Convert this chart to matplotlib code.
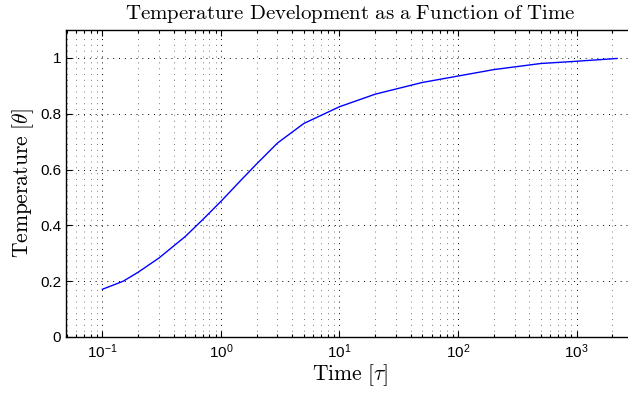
import numpy as np
import matplotlib
matplotlib.use('Agg')
import matplotlib.pyplot as plt
from matplotlib.ticker import LogLocator

plt.rcParams['mathtext.fontset'] = 'custom'
plt.rcParams['mathtext.rm'] = 'Liberation Sans'
plt.rcParams['mathtext.it'] = 'Liberation Sans:italic'
plt.rcParams['font.family'] = 'Liberation Sans'

# curve
tiempo = [0.1, 0.15, 0.2, 0.3, 0.5, 0.7, 1.0, 1.5, 2.0, 3.0, 5.0, 10.0, 20.0, 50.0,
          100.0, 200.0, 500.0, 1000.0, 2200.0]
temperatura = [0.171, 0.2, 0.232, 0.283, 0.36, 0.42, 0.486, 0.565, 0.62, 0.695, 0.765,
               0.825, 0.87, 0.912, 0.935, 0.958, 0.98, 0.988, 0.998]

xticks = [0.1, 1, 10, 100, 1000]
xlabels = [r'$10^{-1}$', r'$10^{0}$', r'$10^{1}$', r'$10^{2}$', r'$10^{3}$']
yticks = [0, 0.2, 0.4, 0.6, 0.8, 1]
ylabels = ['0', '0.2', '0.4', '0.6', '0.8', '1']

fig = plt.figure(figsize=(6.28, 3.95), dpi=100)
ax = fig.add_axes([66/628, 58/395, 1.01 - 66/628, (337-30)/395])

ax.plot(tiempo, temperatura, color='#0000ff', lw=1.0, zorder=3)
ax.set_xscale('log')
ax.set_xlim(0.0493, 10 ** (3 + (634 - 576.3) / 118.4))
ax.set_ylim(0, 1.1)

ax.set_xticks(xticks)
ax.set_xticklabels(xlabels)
ax.xaxis.set_minor_locator(LogLocator(base=10, subs=np.arange(2, 10), numticks=20))
ax.xaxis.set_minor_formatter(plt.NullFormatter())
ax.set_yticks(yticks)
ax.set_yticklabels(ylabels)

ax.tick_params(which='both', direction='in', top=True, right=True, labelsize=11, width=0.8)
ax.tick_params(which='major', length=4)
ax.tick_params(which='minor', length=2)
ax.tick_params(axis='x', pad=4)

ax.grid(True, which='major', color='black', linestyle=(0, (1, 5)), lw=0.7)
ax.grid(True, which='minor', axis='x', color='#777777', linestyle=(0, (1, 5)), lw=0.7)
ax.set_axisbelow(True)

for s in ax.spines.values():
    s.set_linewidth(1.0)

ax.set_title(r'$\mathrm{Temperature\ Development\ as\ a\ Function\ of\ Time}$',
             fontsize=15, math_fontfamily='cm', pad=8)
ax.set_xlabel(r'$\mathrm{Time}\ [\tau]$', fontsize=15.5, math_fontfamily='cm', labelpad=1)
ax.set_ylabel(r'$\mathrm{Temperature}\ [\theta]$', fontsize=15.5, math_fontfamily='cm', labelpad=3)

fig.savefig('out.png', dpi=100)
